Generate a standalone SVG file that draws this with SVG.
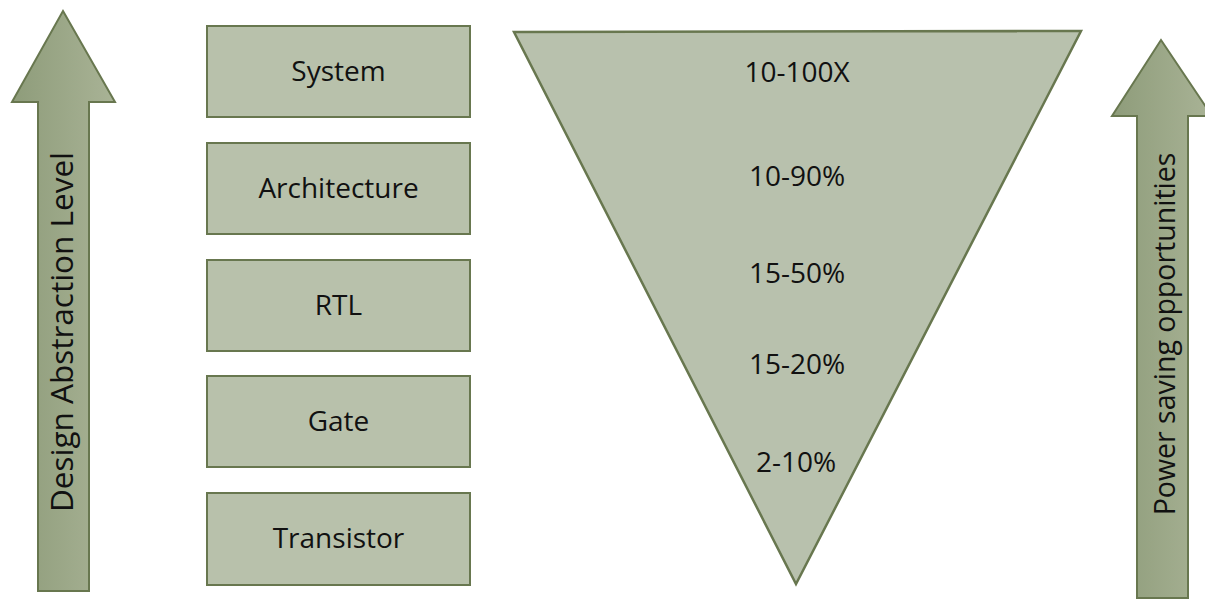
<svg xmlns="http://www.w3.org/2000/svg" width="1205" height="600" viewBox="0 0 1205 600">
<style>
.box{fill:#b8c1ab;stroke:#68774f;stroke-width:2}
.arr{fill:url(#ag);stroke:#68774f;stroke-width:2;stroke-linejoin:miter}
.tri{fill:#b8c1ad;stroke:#68774f;stroke-width:2.5;stroke-linejoin:miter}
.t{font-family:"Open Sans","Noto Sans",sans-serif;font-size:28px;fill:#111;text-anchor:middle}
.v{font-size:31.5px}
.w{font-size:28.5px}
</style>
<defs>
<linearGradient id="ag" x1="0" y1="0" x2="1" y2="0">
<stop offset="0" stop-color="#8e9c7a"/>
<stop offset="1" stop-color="#a9b396"/>
</linearGradient>
</defs>
<rect width="1205" height="600" fill="#ffffff"/>
<g id="arrow-left">
<polygon class="arr" points="63,11 115,102 89,102 89,591 38,591 38,102 12,102"/>
<text class="t v" transform="translate(73,332) rotate(-90)">Design Abstraction Level</text>
</g>
<g id="arrow-right">
<polygon class="arr" points="1161,40 1212,116 1188,116 1188,598 1137,598 1137,116 1112,116"/>
<text class="t w" transform="translate(1175,334) rotate(-90)">Power saving opportunities</text>
</g>
<g id="system"><rect class="box" x="207" y="26" width="263" height="91"/><text class="t" x="338.5" y="81">System</text></g>
<g id="architecture"><rect class="box" x="207" y="143" width="263" height="91"/><text class="t" x="338.5" y="198">Architecture</text></g>
<g id="rtl"><rect class="box" x="207" y="260" width="263" height="91"/><text class="t" x="338.5" y="315">RTL</text></g>
<g id="gate"><rect class="box" x="207" y="376" width="263" height="91"/><text class="t" x="338.5" y="431">Gate</text></g>
<g id="transistor"><rect class="box" x="207" y="493" width="263" height="92"/><text class="t" x="338.5" y="548">Transistor</text></g>
<g id="funnel">
<polygon class="tri" points="514,32 1081,31 796,584"/>
<text class="t" x="797" y="82">10-100X</text>
<text class="t" x="797" y="186">10-90%</text>
<text class="t" x="797" y="283">15-50%</text>
<text class="t" x="797" y="374">15-20%</text>
<text class="t" x="796" y="472">2-10%</text>
</g>
<g id="connectors"></g>
</svg>
